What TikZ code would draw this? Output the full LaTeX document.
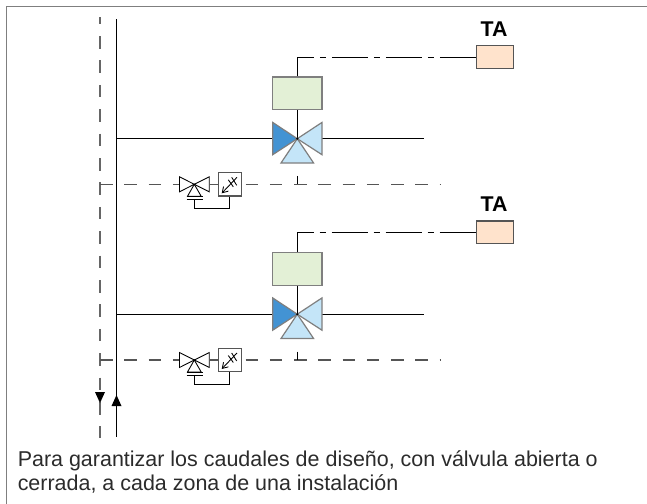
\documentclass[tikz,border=0pt]{standalone}
\usepackage{fontspec}
\setmainfont{Liberation Sans}
\usetikzlibrary{arrows.meta}
\definecolor{frameg}{HTML}{7F7F7F}
\definecolor{dashg}{HTML}{555555}
\definecolor{riserg}{HTML}{666666}
\definecolor{actg}{HTML}{E3F0D6}
\definecolor{tao}{HTML}{FFE3CC}
\definecolor{vdark}{HTML}{4393D3}
\definecolor{vlight}{HTML}{C4E5F8}
\definecolor{captxt}{HTML}{2B2B2B}
\tikzset{
 x=0.75pt,y=-0.75pt,
 pipe/.style={line width=0.75pt,black},
 ret/.style={line width=0.8pt,dashg,dash pattern=on 9.4pt off 8.79pt},
 riser/.style={line width=0.8pt,riserg,dash pattern=on 9.4pt off 8.9pt,dash phase=4pt},
 ctrl/.style={line width=0.75pt,black,dash pattern=on 27.4pt off 4pt on 5pt off 4.1pt},
 act/.style={draw=frameg,line width=1pt,fill=actg,minimum width=37pt,minimum height=24.5pt,inner sep=0pt},
 ta/.style={draw=dashg,line width=0.8pt,fill=tao,minimum width=27.5pt,minimum height=17pt,inner sep=0pt},
 talabel/.style={font=\bfseries\fontsize{16}{17}\selectfont,inner sep=0pt},
 caption/.style={font=\fontsize{16.1}{18}\selectfont,text=captxt,align=left,anchor=base west,inner sep=0pt},
 wedge/.style={draw=frameg,line width=0.9pt,line join=miter},
 small/.style={draw=black,line width=0.65pt,fill=white},
 balbox/.style={draw=dashg,line width=0.9pt,fill=white,minimum width=17.5pt,minimum height=17.5pt,inner sep=0pt},
 thinl/.style={line width=0.65pt,black},
}
\newcommand{\branch}[4]{%
\node[act] (act#4) at (297.3,#1-45.3) {};
\node[ta] (ta#4) at (495,#3) {};
\coordinate (vc#4) at (297.3,#1);
\draw[pipe] (116.5,#1) -- (273,#1);
\draw[pipe] (322,#1) -- (424,#1);
\draw[pipe] (act#4.south) -- (vc#4);
\draw[ctrl] (act#4.north) |- (ta#4.west);
\draw[wedge,fill=vdark] (vc#4) -- (272.7,#1-16.3) -- (272.7,#1+16) -- cycle;
\draw[wedge,fill=vlight] (vc#4) -- (322,#1-16.3) -- (322,#1+16) -- cycle;
\draw[wedge,fill=vlight] (vc#4) -- (281,#1+24.3) -- (313.6,#1+24.3) -- cycle;
\fill[black] (vc#4) circle (1.2);
\draw[ret] (100,#2) -- (441,#2);
\draw[pipe] (297.3,#2-8.5) -- (297.3,#2);
\coordinate (sv#4) at (194.3,#2);
\draw[small] (sv#4) -- (179.5,#2-7.5) -- (179.5,#2+7.5) -- cycle;
\draw[small] (sv#4) -- (209.3,#2-7.5) -- (209.3,#2+7.5) -- cycle;
\draw[small] (sv#4) -- (187.5,#2+12) -- (201.2,#2+12) -- cycle;
\draw[thinl] (186.5,#2+12) -- (202.5,#2+12);
\draw[thinl] (186.5,#2+15) -- (202.5,#2+15);
\node[balbox] (bal#4) at (229.8,#2) {};
\draw[line width=0.8pt,dashg] (209.3,#2) -- (bal#4.west);
\draw[thinl] (194.3,#2+15) -- (194.3,#2+24) -| (bal#4.south);
\draw[thinl,-{Straight Barb[length=4pt,width=5pt]}] (237,#2-7) -- (221.7,#2+9);
\draw[thinl] (228.3,#2-4.5) -- (233.3,#2+2.5);
\draw[thinl] (231.7,#2-7) -- (236.7,#2+1);
}
\begin{document}
\begin{tikzpicture}
\useasboundingbox (0,0) rectangle (647,504);
\draw[frameg,line width=1.1pt] (6.5,504) -- (6.5,6.5) -- (647,6.5);
% risers
\coordinate (rt) at (116.5,19);
\coordinate (rb) at (116.5,437);
\coordinate (dt) at (100,17);
\coordinate (db) at (100,438);
\draw[riser] (dt) -- (db);
\draw[pipe] (rt) -- (rb);
\fill[black] (100,403) -- (95,392) -- (105,392) -- cycle;
\fill[black] (116.5,395) -- (111.5,406) -- (121.5,406) -- cycle;
\branch{138.7}{184.3}{57}{a}
\branch{314.2}{360}{232.3}{b}
\node[talabel] (tla) at (494,29.2) {TA};
\node[talabel] (tlb) at (494,204) {TA};
\node[caption] (cap) at (17.5,466) {Para garantizar los caudales de diseño, con válvula abierta o};
\node[caption] (capb) at (17.5,490) {cerrada, a cada zona de una instalación};
\end{tikzpicture}
\end{document}
